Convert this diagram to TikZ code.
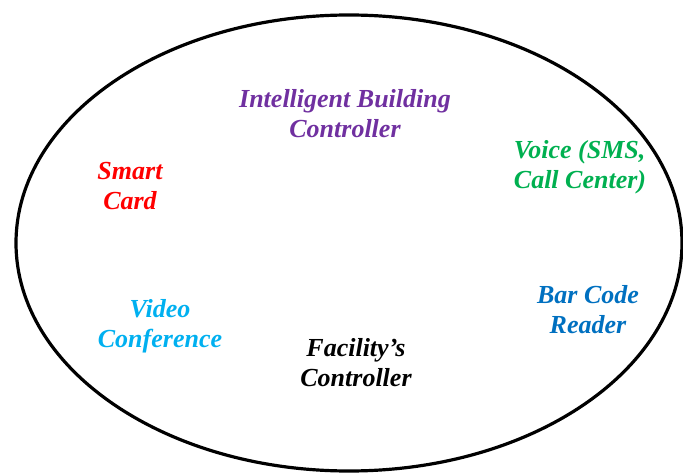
\documentclass[tikz,border=0pt]{standalone}
\usepackage{fontspec}
\setmainfont{Liberation Serif}
\usetikzlibrary{positioning,calc}
\definecolor{ibpurple}{RGB}{112,48,160}
\definecolor{voicegreen}{RGB}{0,176,80}
\definecolor{barblue}{RGB}{0,112,192}
\definecolor{videoblue}{RGB}{0,176,240}
\begin{document}
\begin{tikzpicture}[x=1pt,y=-1pt]

  \tikzstyle{ring}=[draw=black, line width=3.2pt]
  \tikzstyle{item}=[inner sep=0pt, align=center, font=\fontsize{26}{30}\selectfont\bfseries\itshape]
  \def\cx{349}
  \def\cy{243}

  \useasboundingbox (0,0) rectangle (683,473);
  \coordinate (centre) at (\cx,\cy);
  \draw [ring] (centre) ellipse [x radius=333pt, y radius=228pt];

  \node [item, text=ibpurple] (ibc) at (345,114) {Intelligent Building\\Controller};
  \node [item, text=red] (card) at (130,186) {Smart\\Card};
  \node [item, text=voicegreen, align=left] (voice) at (580,167) {Voice (SMS,\\Call Center)};
  \node [item, text=barblue] (bar) at (588,310) {Bar Code\\Reader};
  \node [item, text=videoblue] (video) at (160,326) {Video\\Conference};
  \node [item, text=black] (fac) at (356,363) {Facility's\\Controller};
\end{tikzpicture}
\end{document}
